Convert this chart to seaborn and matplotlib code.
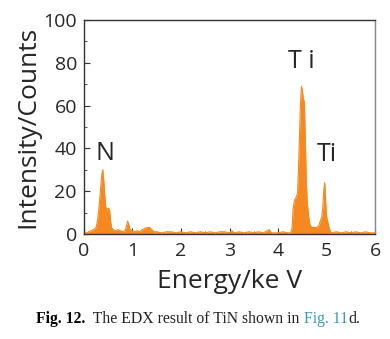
import matplotlib
matplotlib.use("Agg")
import matplotlib.pyplot as plt
import seaborn as sns
import pandas as pd
from matplotlib.ticker import MultipleLocator

energy = [0.00, 0.05, 0.10, 0.15, 0.20, 0.25, 0.28, 0.31, 0.34, 0.37, 0.39, 0.41, 0.43, 0.45,
          0.47, 0.49, 0.51, 0.53, 0.55, 0.57, 0.60, 0.65, 0.70, 0.75, 0.80, 0.85, 0.88, 0.90,
          0.92, 0.95, 1.00, 1.05, 1.10, 1.15, 1.20, 1.25, 1.30, 1.35, 1.40, 1.45, 1.50, 1.60,
          1.70, 1.80, 1.90, 2.00, 2.10, 2.20, 2.30, 2.40, 2.50, 2.60, 2.70, 2.80, 2.90, 3.00,
          3.05, 3.10, 3.20, 3.30, 3.40, 3.50, 3.60, 3.70, 3.78, 3.82, 3.86, 3.90, 4.00, 4.10,
          4.20, 4.26, 4.29, 4.31, 4.34, 4.37, 4.40, 4.42, 4.44, 4.46, 4.48, 4.50, 4.52, 4.54,
          4.56, 4.58, 4.60, 4.63, 4.66, 4.70, 4.75, 4.80, 4.84, 4.87, 4.90, 4.92, 4.94, 4.96,
          4.98, 5.00, 5.02, 5.05, 5.08, 5.10, 5.20, 5.30, 5.40, 5.50, 5.60, 5.70, 5.80, 5.90, 6.00]
counts = [0.0, 0.5, 1.0, 1.5, 2.0, 3.0, 6.0, 12.0, 20.0, 28.0, 30.0, 25.0, 18.0, 13.0,
          11.0, 12.0, 12.0, 11.0, 6.0, 3.0, 2.0, 1.5, 2.0, 1.5, 1.0, 1.5, 4.0, 6.0,
          5.0, 2.0, 1.5, 1.0, 1.5, 1.0, 2.0, 2.5, 3.0, 3.0, 2.0, 1.0, 1.0, 0.5,
          1.0, 1.0, 0.5, 1.0, 0.5, 1.0, 0.5, 1.0, 0.5, 1.0, 0.5, 1.0, 1.0, 0.5,
          1.5, 0.5, 1.0, 0.5, 1.0, 0.5, 1.0, 0.5, 1.5, 2.0, 0.5, 0.5, 0.5, 1.0,
          0.5, 0.5, 3.0, 12.0, 16.0, 17.0, 19.0, 30.0, 45.0, 60.0, 69.0, 67.0, 63.0, 62.0,
          45.0, 25.0, 15.0, 8.0, 4.0, 3.0, 3.0, 3.0, 4.0, 6.0, 8.0, 12.0, 20.0, 24.0,
          15.0, 8.0, 6.0, 3.0, 1.0, 0.5, 1.0, 0.5, 1.0, 0.5, 1.0, 0.5, 1.0, 0.5, 0.5]

peak_labels = ["N", "T i", "Ti"]
peak_label_x = [0.43, 4.48, 5.01]
peak_label_y = [34.6, 77.5, 34.0]

x_ticks = [0, 1, 2, 3, 4, 5, 6]
y_ticks = [0, 20, 40, 60, 80, 100]

df = pd.DataFrame({"Energy": energy, "Counts": counts})

sns.set_style("white")
plt.rcParams["font.family"] = ["Open Sans", "DejaVu Sans"]
orange = "#F5891F"

fig = plt.figure(figsize=(3.9, 3.39), dpi=100)
ax = fig.add_axes([0.215, 0.310, 0.747, 0.631])
sns.lineplot(data=df, x="Energy", y="Counts", ax=ax, color=orange, linewidth=0.8)
ax.fill_between(df["Energy"], 0, df["Counts"], color=orange, linewidth=0)

ax.set_xlim(0, 6)
ax.set_ylim(0, 100)
ax.set_xticks(x_ticks)
ax.set_yticks(y_ticks)
ax.xaxis.set_minor_locator(MultipleLocator(0.5))
ax.yaxis.set_minor_locator(MultipleLocator(10))
ax.tick_params(which="both", direction="in", left=True, bottom=True, top=False, right=False,
               labelsize=14, color="#333333")
ax.tick_params(axis="x", which="major", pad=6)
ax.tick_params(axis="y", which="major", pad=5)
ax.tick_params(which="major", length=4, width=0.8)
ax.tick_params(which="minor", length=2.5, width=0.6)
for s in ax.spines.values():
    s.set_color("#333333")
    s.set_linewidth(1.0)
ax.spines["right"].set_color("#888888")

ax.set_xlabel("Energy/ke V", fontsize=19, labelpad=6)
ax.set_ylabel("Intensity/Counts", fontsize=19, labelpad=2)

for lab, lx, ly in zip(peak_labels, peak_label_x, peak_label_y):
    ax.text(lx, ly, lab, fontsize=18, ha="center", va="baseline")

# caption
fig.canvas.draw()
r = fig.canvas.get_renderer()
parts = [("Fig. 12.", "bold", "black"), ("  The EDX result of TiN shown in ", "normal", "#222222"),
         ("Fig. 11", "normal", "#3b9ab5"), ("d.", "normal", "#222222")]
texts = []
for s, w, c in parts:
    t = fig.text(0.0, 1 - 319 / 339, s, fontsize=11.3, fontweight=w, color=c,
                 family=["Liberation Serif", "DejaVu Serif"], va="center", ha="left")
    texts.append(t)
widths = []
for t in texts:
    bb = t.get_window_extent(r)
    widths.append(bb.width / fig.bbox.width)
total = sum(widths)
x = 198 / 390 - total / 2
for t, w in zip(texts, widths):
    t.set_x(x)
    x += w

fig.savefig("out.png", dpi=100)
